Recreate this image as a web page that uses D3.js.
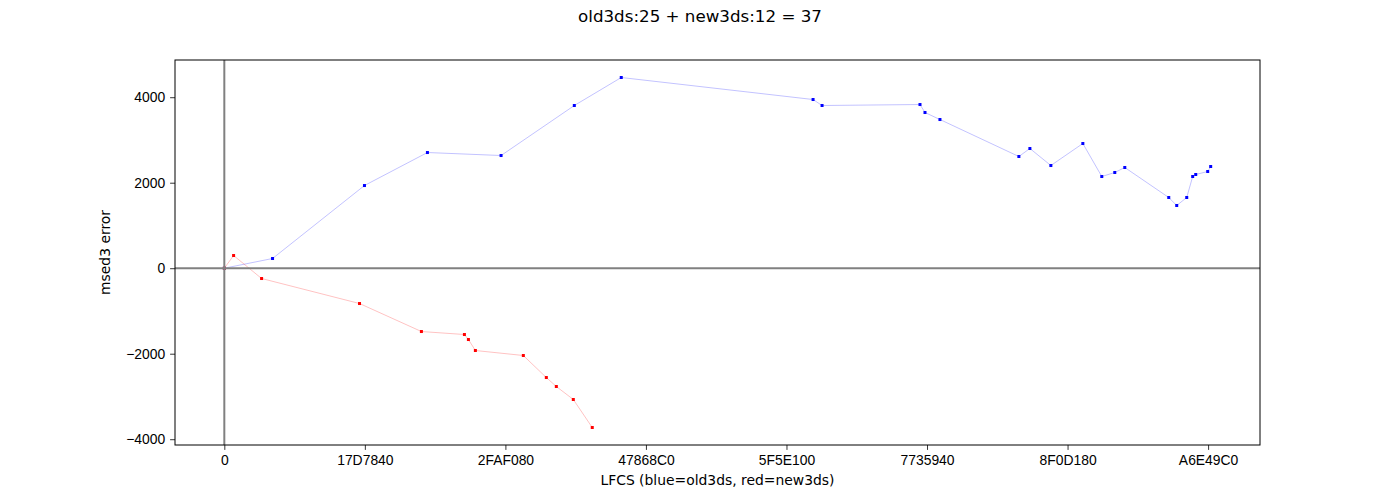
<!DOCTYPE html>
<html>
<head>
<meta charset="utf-8">
<script src="https://cdn.jsdelivr.net/npm/d3@7"></script>
<style>
  body { margin: 0; background: #fff; }
  svg { font-family: "DejaVu Sans", sans-serif; }
</style>
</head>
<body>
<script>
// LFCS values (raw integers) and msed3 error
var oldX = [0, 8580000, 24930000, 36130000, 49230000, 62260000, 70610000,
  104730000, 106330000, 123750000, 124640000, 127300000, 141340000, 143300000,
  147030000, 152720000, 156090000, 158400000, 160180000, 168000000, 169420000,
  171200000, 172260000, 172800000, 174930000, 175460000];
var oldY = [0, 227, 1934, 2706, 2636, 3806, 4461,
  3946, 3806, 3829, 3642, 3478, 2613, 2800,
  2402, 2917, 2145, 2239, 2356, 1654, 1467,
  1654, 2145, 2192, 2262, 2379];

var newX = [0, 1650000, 6630000, 24050000, 35060000, 42710000, 43420000,
  44660000, 53190000, 57280000, 59060000, 62080000, 65450000];
var newY = [0, 297, -241, -826, -1481, -1551, -1668,
  -1925, -2042, -2557, -2767, -3071, -3726];

var xTicks = [0, 25000000, 50000000, 75000000, 100000000, 125000000, 150000000, 175000000];
var yTicks = [-4000, -2000, 0, 2000, 4000];

var width = 1400;
var height = 500;
var margin = {left: 175, right: 140, top: 60, bottom: 55};

var svg = d3.select("body").append("svg")
    .attr("width", width)
    .attr("height", height);

// matplotlib style 5% padding around data
var allX = oldX.concat(newX), allY = oldY.concat(newY);
var xMin = d3.min(allX), xMax = d3.max(allX);
var yMin = d3.min(allY), yMax = d3.max(allY);
var xPad = (xMax - xMin) * 0.05, yPad = (yMax - yMin) * 0.05;

var x = d3.scaleLinear()
    .domain([xMin - xPad, xMax + xPad])
    .range([margin.left, width - margin.right]);
var y = d3.scaleLinear()
    .domain([yMin - yPad, yMax + yPad])
    .range([height - margin.bottom, margin.top]);

var pad = 4.9;

svg.append("g")
    .attr("transform", "translate(0," + (height - margin.bottom) + ")")
    .call(d3.axisBottom(x).tickValues(xTicks).tickSize(4.9).tickPadding(pad)
      .tickFormat(function(d) { return d.toString(16).toUpperCase(); }))
    .call(function(g) { g.select(".domain").remove(); })
    .selectAll("text").attr("font-size", "13.9px").attr("fill", "#000");

svg.append("g")
    .attr("transform", "translate(" + margin.left + ",0)")
    .call(d3.axisLeft(y).tickValues(yTicks).tickSize(4.9).tickPadding(pad)
      .tickFormat(function(d) { return d < 0 ? "\u2212" + (-d) : d; }))
    .call(function(g) { g.select(".domain").remove(); })
    .selectAll("text").attr("font-size", "13.9px").attr("fill", "#000");

svg.selectAll(".tick line").attr("stroke", "#000").attr("stroke-width", 0.8);

function series(xs, ys, color) {
  var pts = xs.map(function(v, i) { return [v, ys[i]]; });
  var line = d3.line()
      .x(function(d) { return x(d[0]); })
      .y(function(d) { return y(d[1]); });

  svg.append("path")
      .datum(pts)
      .attr("fill", "none")
      .attr("stroke", color)
      .attr("stroke-opacity", 0.3)
      .attr("stroke-width", 0.8)
      .attr("d", line);

  svg.append("g").selectAll("rect")
      .data(pts)
    .enter().append("rect")
      .attr("x", function(d) { return x(d[0]) - 1.5; })
      .attr("y", function(d) { return y(d[1]) - 1.5; })
      .attr("width", 3)
      .attr("height", 3)
      .attr("fill", color);
}

series(oldX, oldY, "#0000ff");
series(newX, newY, "#ff0000");

// zero lines
svg.append("line")
    .attr("x1", margin.left).attr("x2", width - margin.right)
    .attr("y1", y(0)).attr("y2", y(0))
    .attr("stroke", "#808080").attr("stroke-width", 2);
svg.append("line")
    .attr("x1", x(0)).attr("x2", x(0))
    .attr("y1", margin.top).attr("y2", height - margin.bottom)
    .attr("stroke", "#808080").attr("stroke-width", 2);

// frame
svg.append("rect")
    .attr("x", margin.left).attr("y", margin.top)
    .attr("width", width - margin.left - margin.right)
    .attr("height", height - margin.top - margin.bottom)
    .attr("fill", "none").attr("stroke", "#000").attr("stroke-width", 1);

svg.append("text")
    .attr("x", width / 2).attr("y", 22)
    .attr("text-anchor", "middle")
    .attr("font-size", "16.7px")
    .text("old3ds:25 + new3ds:12 = 37");

svg.append("text")
    .attr("x", (margin.left + width - margin.right) / 2).attr("y", 485)
    .attr("text-anchor", "middle")
    .attr("font-size", "13.9px")
    .text("LFCS (blue=old3ds, red=new3ds)");

svg.append("text")
    .attr("transform", "translate(110," + ((margin.top + height - margin.bottom) / 2) + ") rotate(-90)")
    .attr("text-anchor", "middle")
    .attr("font-size", "13.9px")
    .text("msed3 error");
</script>
</body>
</html>
